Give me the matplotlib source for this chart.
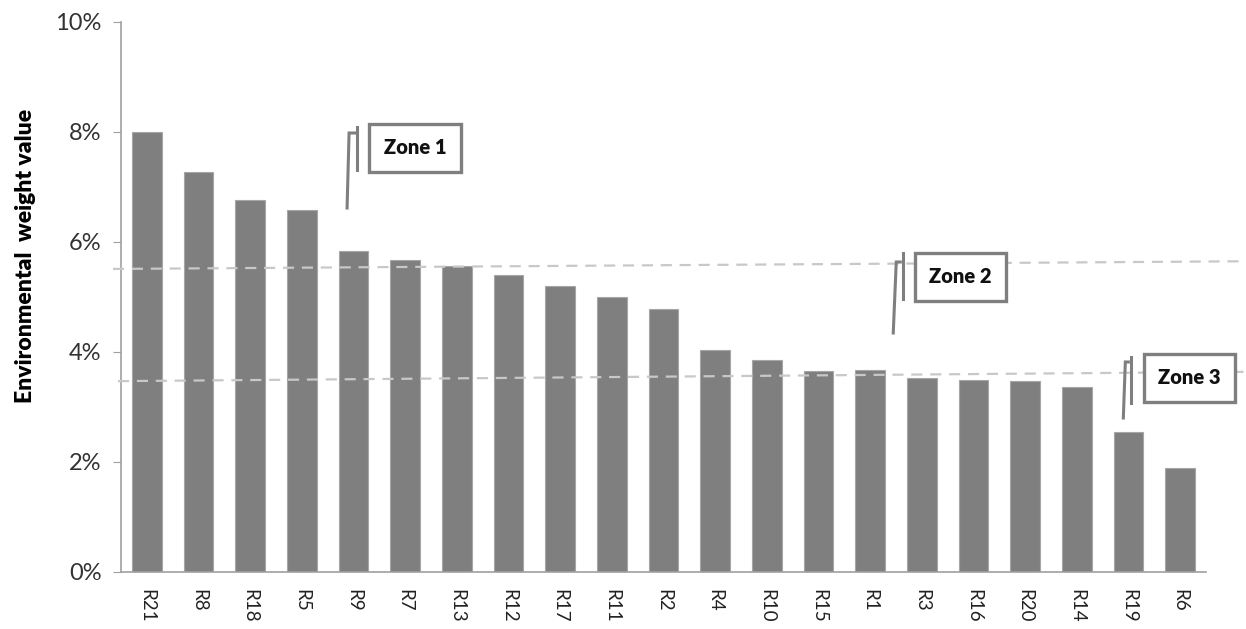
import numpy as np
import matplotlib
matplotlib.use('Agg')
import matplotlib.pyplot as plt

plt.rcParams['font.family'] = ['Lato', 'DejaVu Sans']

regions = ['R21', 'R8', 'R18', 'R5', 'R9', 'R7', 'R13', 'R12', 'R17', 'R11', 'R2',
           'R4', 'R10', 'R15', 'R1', 'R3', 'R16', 'R20', 'R14', 'R19', 'R6']
weights = [8.0, 7.27, 6.76, 6.58, 5.84, 5.67, 5.56, 5.4, 5.2, 5.0, 4.78,
           4.04, 3.85, 3.65, 3.67, 3.53, 3.49, 3.47, 3.36, 2.55, 1.89]

zone_names = ['Zone 1', 'Zone 2', 'Zone 3']
zone_lines = [(5.51, 5.65), (3.47, 3.64)]

fig = plt.figure(figsize=(12.46, 6.29), dpi=100)
ax = fig.add_axes([121 / 1246, 57 / 629, 1085 / 1246, 550 / 629])

x = np.arange(len(regions))
ax.bar(x, weights, width=0.58, color='#7f7f7f', edgecolor='#a6a6a6', linewidth=0.8, zorder=2)

ax.set_xlim(-0.5, len(regions) - 0.5)
ax.set_ylim(0, 10)
ax.set_yticks(range(0, 11, 2))
ax.set_yticklabels(['%d%%' % v for v in range(0, 11, 2)], fontsize=17, color='#333333')
ax.set_xticks(x)
ax.set_xticklabels(regions, rotation=270, fontsize=13.5, color='#222222')
ax.tick_params(axis='x', length=0, pad=12)
ax.tick_params(axis='y', length=6, color='#a0a0a0', pad=8)

for s in ['top', 'right']:
    ax.spines[s].set_visible(False)
ax.spines['left'].set_color('#a0a0a0')
ax.spines['bottom'].set_color('#a0a0a0')
ax.spines['left'].set_linewidth(1.2)
ax.spines['bottom'].set_linewidth(1.2)

ax.set_ylabel('Environmental  weight value', fontsize=16.5, fontweight='heavy')
ax.yaxis.set_label_coords(-0.078, 0.575)


def px(xp, yp):
    # pixel position on the picture -> data coords
    return (xp - 121) / 51.65 - 0.5, (572 - yp) / 55


# dashed zone borders
for (y0, y1), xs in zip(zone_lines, [(113, 1246), (118, 1246)]):
    xa, _ = px(xs[0], 0)
    xb, _ = px(xs[1], 0)
    ax.plot([xa, xb], [y0, y1], ls=(0, (5, 3.5)), color='#c8c8c8', lw=1.6,
            clip_on=False, zorder=3)

# zone boxes with their little callout lines
boxes = [(415, 147.5), (960, 276.5), (1189, 377.5)]
leaders = [
    [(347, 208), (349, 133), (355, 133)],
    [(893, 333), (896, 262), (900, 262)],
    [(1123, 418), (1125, 362), (1128, 362)],
]
bars_v = [(357, 127, 170), (903, 253, 299), (1131, 357, 403)]

for name, (bx, by), lead, (vx, vt, vb) in zip(zone_names, boxes, leaders, bars_v):
    tx, ty = px(bx, by)
    ax.text(tx, ty, name, ha='center', va='center', fontsize=14.5, fontweight='heavy',
            color='#111111', zorder=5, clip_on=False,
            bbox=dict(boxstyle='square,pad=0.72', fc='white', ec='#7f7f7f', lw=2.4))
    pts = [px(a, b) for a, b in lead]
    ax.plot([p[0] for p in pts], [p[1] for p in pts], color='#7f7f7f', lw=2.2,
            clip_on=False, zorder=4, solid_joinstyle='miter')
    p1 = px(vx, vt)
    p2 = px(vx, vb)
    ax.plot([p1[0], p2[0]], [p1[1], p2[1]], color='#7f7f7f', lw=2.2, clip_on=False, zorder=4)

fig.savefig('out.png', dpi=100)
